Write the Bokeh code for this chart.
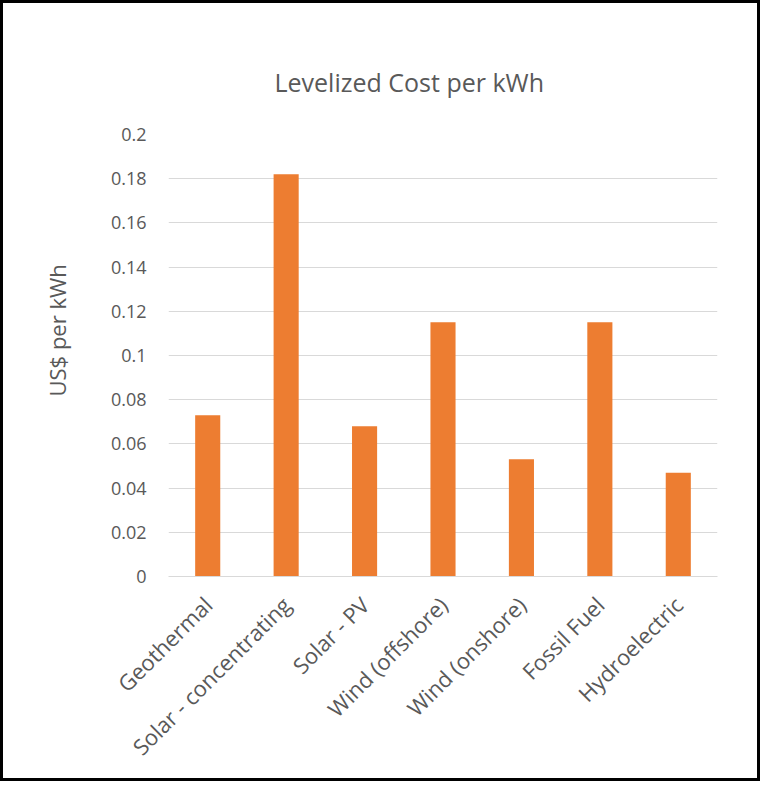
import math
from bokeh.plotting import figure
from bokeh.models import Range1d, FactorRange, FixedTicker, Title
from bokeh.embed import file_html
from bokeh.resources import INLINE

categories = ["Geothermal", "Solar - concentrating", "Solar - PV", "Wind (offshore)",
              "Wind (onshore)", "Fossil Fuel", "Hydroelectric"]
costs = [0.073, 0.182, 0.068, 0.115, 0.053, 0.115, 0.047]
y_ticks = [0, 0.02, 0.04, 0.06, 0.08, 0.1, 0.12, 0.14, 0.16, 0.18, 0.2]
y_tick_labels = ["0", "0.02", "0.04", "0.06", "0.08", "0.1", "0.12", "0.14", "0.16", "0.18", "0.2"]
title_text = "Levelized Cost per kWh"
y_label_text = "US$ per kWh"

FONT = "Open Sans"
TXT = "#595959"
GRID = "#d9d9d9"
BAR = "#ED7D31"

p = figure(width=760, height=781, output_backend="svg", toolbar_location=None,
           x_range=FactorRange(*categories), y_range=Range1d(0, 0.2),
           min_border_left=160, min_border_right=46, min_border_top=131, min_border_bottom=208)
p.styles = {"border": "3px solid black", "box-sizing": "border-box"}
p.outline_line_color = None
p.background_fill_color = "white"
p.border_fill_color = "white"

p.vbar(x=categories, top=costs, width=0.32, color=BAR, line_color=None)

# y axis
p.yaxis.ticker = FixedTicker(ticks=y_ticks)
p.yaxis.major_label_overrides = {t: l for t, l in zip(y_ticks, y_tick_labels)}
p.yaxis.axis_line_color = None
p.yaxis.major_tick_line_color = None
p.yaxis.minor_tick_line_color = None
p.yaxis.major_label_standoff = 16
p.yaxis.major_label_text_font = FONT
p.yaxis.major_label_text_font_size = "18px"
p.yaxis.major_label_text_color = TXT

# x axis
p.xaxis.axis_line_color = GRID
p.xaxis.axis_line_width = 1
p.xaxis.major_tick_line_color = None
p.xaxis.minor_tick_line_color = None
p.xaxis.major_label_orientation = math.pi / 4
p.xaxis.major_label_standoff = 18
p.xaxis.major_label_text_font = FONT
p.xaxis.major_label_text_font_size = "22px"
p.xaxis.major_label_text_color = TXT

p.xgrid.grid_line_color = None
p.ygrid.grid_line_color = GRID
p.ygrid.grid_line_width = 1

p.title.text = title_text
p.title.align = "left"
p.title.offset = 106
p.title.standoff = 71
p.title.text_font = FONT
p.title.text_font_size = "25px"
p.title.text_font_style = "normal"
p.title.text_color = TXT

ylab = Title(text=y_label_text, align="left", offset=180, standoff=72,
             text_font=FONT, text_font_size="22px", text_font_style="normal", text_color=TXT)
p.add_layout(ylab, "left")

open("out.html", "w").write(file_html(p, INLINE))
